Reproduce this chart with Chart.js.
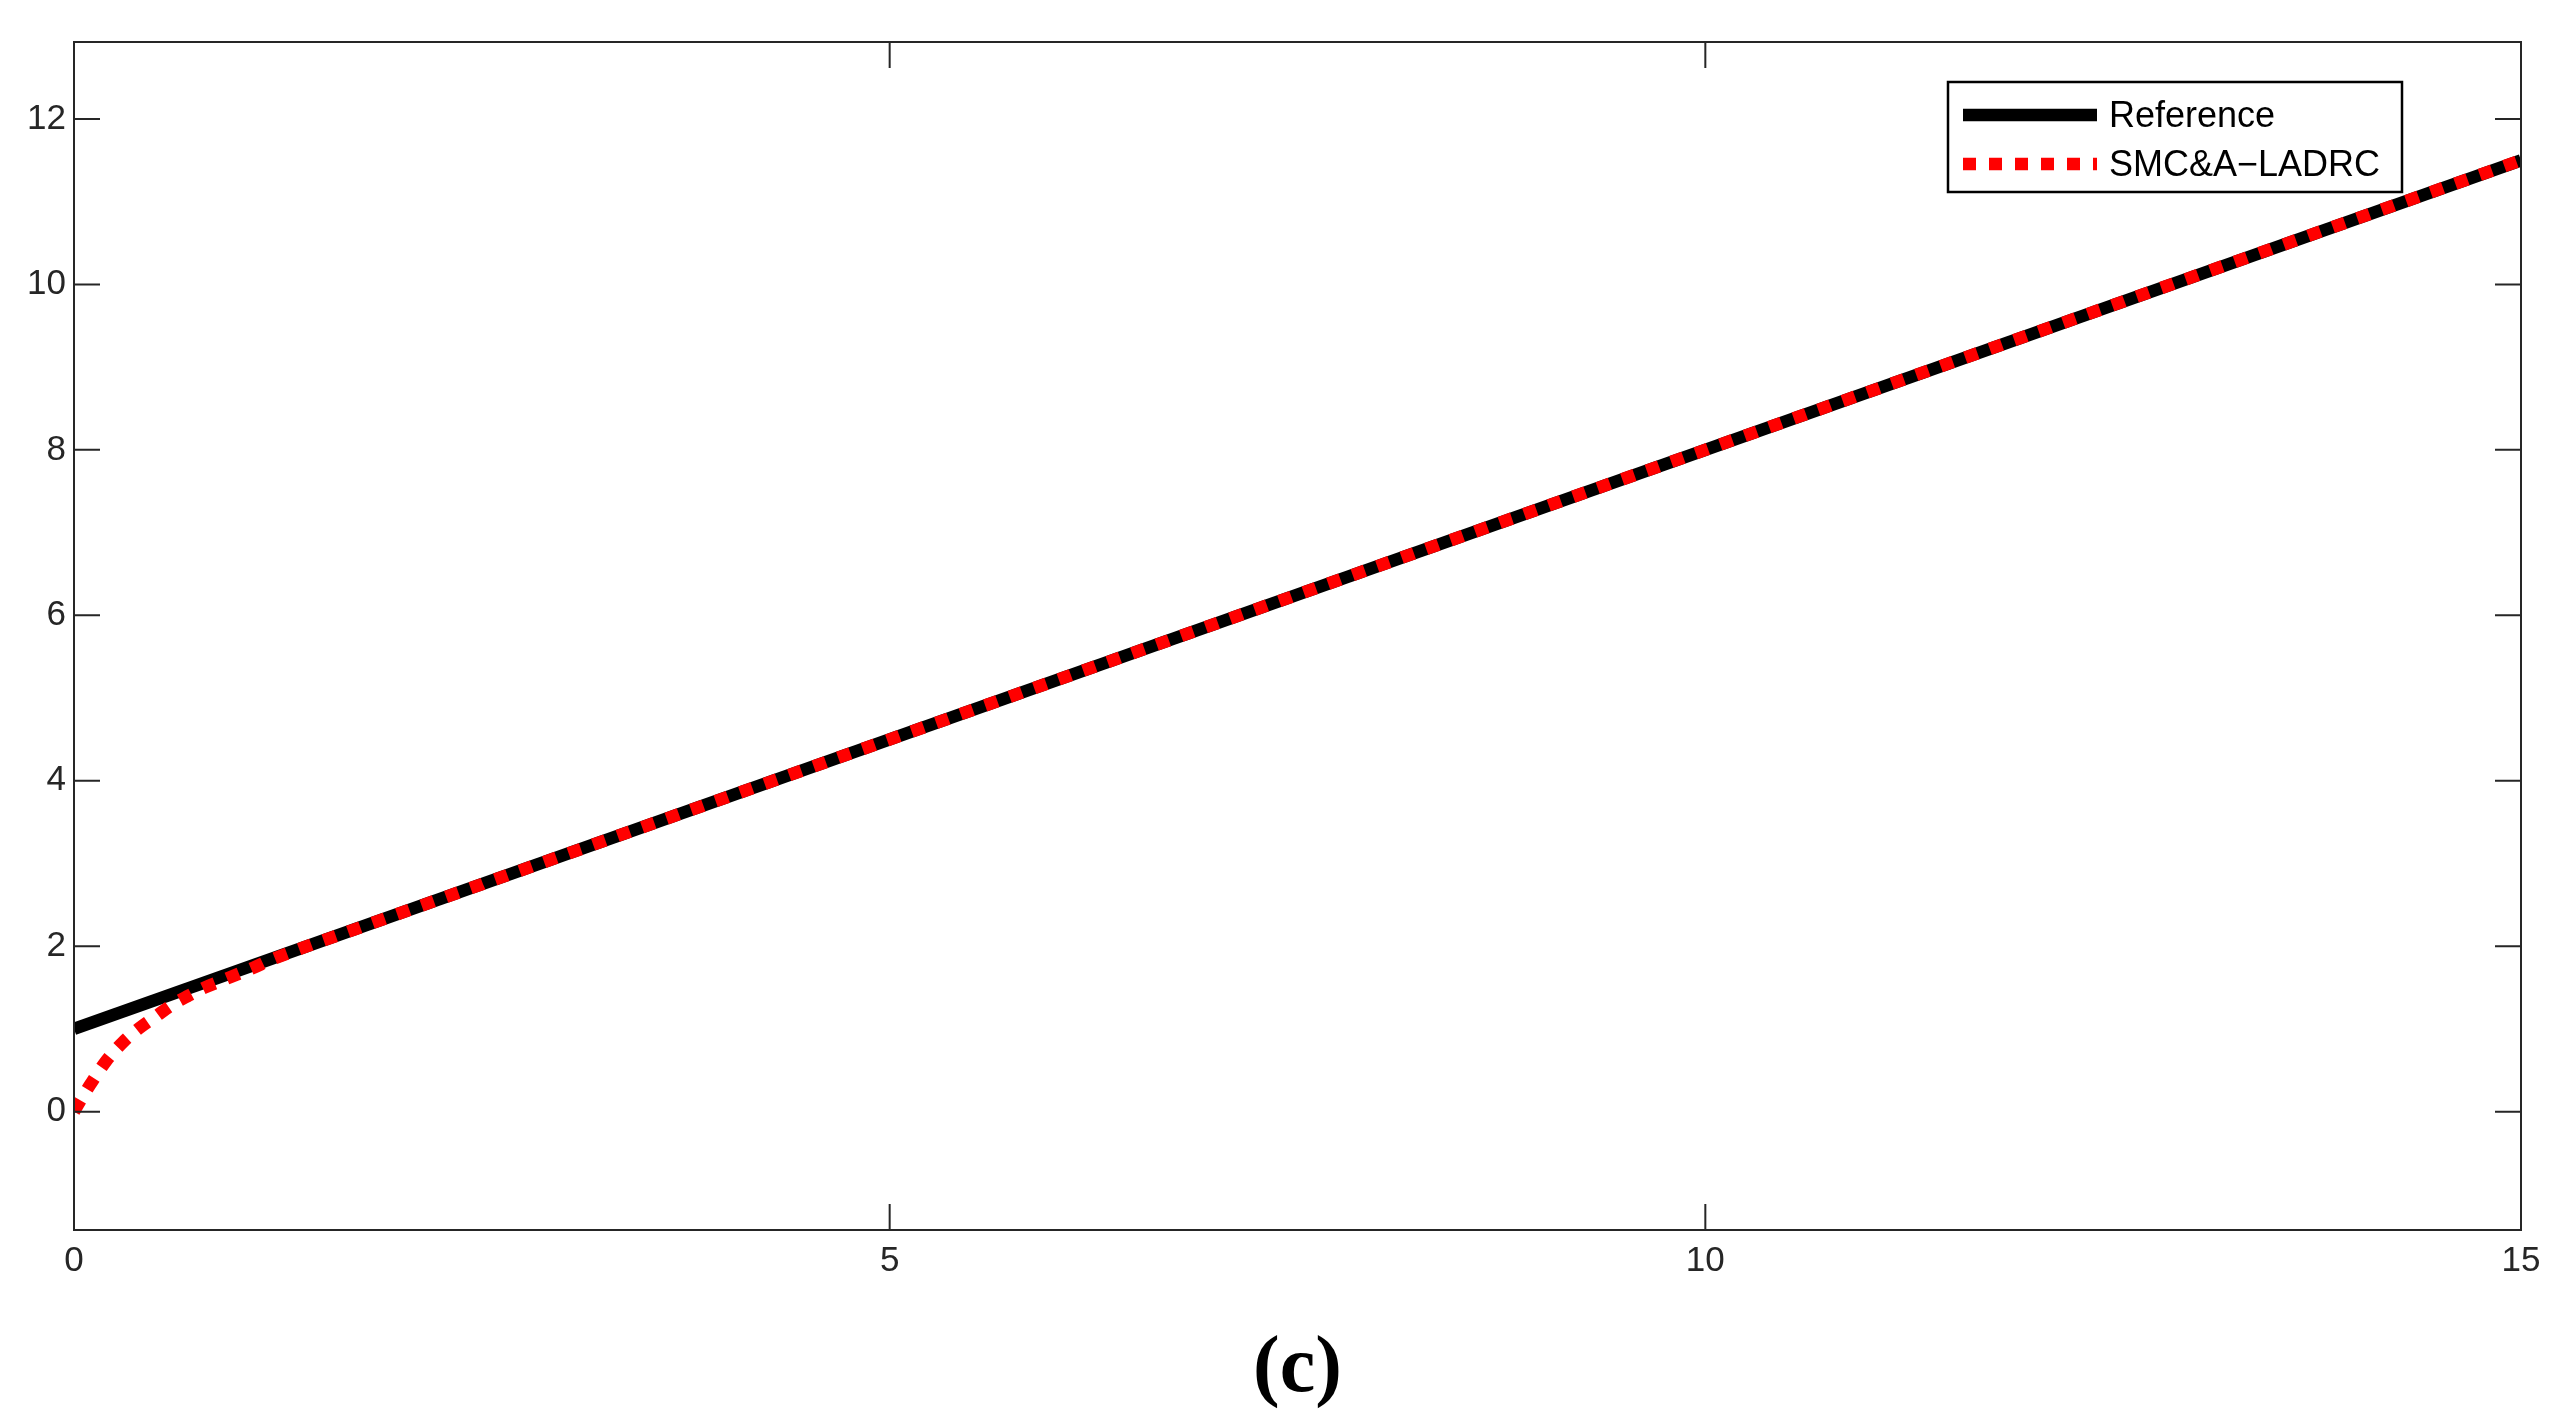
<!DOCTYPE html>
<html>
<head>
<meta charset="utf-8">
<script src="https://cdn.jsdelivr.net/npm/chart.js@4/dist/chart.umd.min.js"></script>
<style>
  html, body { margin: 0; padding: 0; background: #ffffff; }
  #wrap { width: 2567px; height: 1428px; position: relative; }
</style>
</head>
<body>
<div id="wrap"><canvas id="c" width="2567" height="1428"></canvas></div>
<script>
// ---- data ----
const seriesNames = ["Reference", "SMC&A\u2212LADRC"];
const refT = [0, 15];
const refY = [1.0, 11.5];
const ctrlT = [0, 0.05, 0.1, 0.2, 0.3, 0.4, 0.5, 0.6, 0.7, 0.8, 0.9, 1.0, 1.1, 1.2, 1.4, 1.6, 1.8, 15];
const ctrlY = [0, 0.17, 0.33, 0.62, 0.84, 1.01, 1.15, 1.29, 1.40, 1.50, 1.58, 1.66, 1.74, 1.83, 1.98, 2.12, 2.26, 11.5];
const xTicks = [0, 5, 10, 15];
const yTicks = [0, 2, 4, 6, 8, 10, 12];
const xRange = [0, 15];
const yRange = [-1.43, 12.93];
const caption = "(c)";

const AXIS_COLOR = "#262626";
const TICK_FONT = { family: "'Liberation Sans', Arial, sans-serif", size: 35, lineHeight: 1 };

function toPts(xs, ys) { return xs.map((x, i) => ({ x: x, y: ys[i] })); }

// frame + inward ticks on all four sides (MATLAB box style)
const framePlugin = {
  id: 'frame',
  afterDatasetsDraw(chart) {
    const { ctx, chartArea: a, scales: { x, y } } = chart;
    const tl = 26;
    ctx.save();
    ctx.strokeStyle = AXIS_COLOR;
    ctx.lineWidth = 2;
    ctx.beginPath();
    xTicks.forEach(v => {
      const px = x.getPixelForValue(v);
      ctx.moveTo(px, a.bottom); ctx.lineTo(px, a.bottom - tl);
      ctx.moveTo(px, a.top); ctx.lineTo(px, a.top + tl);
    });
    yTicks.forEach(v => {
      const py = y.getPixelForValue(v);
      ctx.moveTo(a.left, py); ctx.lineTo(a.left + tl, py);
      ctx.moveTo(a.right, py); ctx.lineTo(a.right - tl, py);
    });
    ctx.stroke();
    ctx.strokeRect(a.left, a.top, a.right - a.left, a.bottom - a.top);
    ctx.restore();
  }
};

// boxed legend inside the axes, upper right
const legendPlugin = {
  id: 'boxLegend',
  afterDraw(chart) {
    const { ctx } = chart;
    const box = { x: 1948, y: 82, w: 454, h: 110 };
    ctx.save();
    ctx.fillStyle = "#ffffff";
    ctx.fillRect(box.x, box.y, box.w, box.h);
    ctx.strokeStyle = "#000000";
    ctx.lineWidth = 2.5;
    ctx.strokeRect(box.x, box.y, box.w, box.h);
    const rows = [115, 164];
    chart.data.datasets.forEach((ds, i) => {
      const yy = rows[i];
      ctx.save();
      ctx.strokeStyle = ds.borderColor;
      ctx.lineWidth = ds.borderWidth;
      ctx.lineCap = 'butt';
      ctx.setLineDash(ds.borderDash || []);
      ctx.beginPath();
      ctx.moveTo(1963, yy);
      ctx.lineTo(2097, yy);
      ctx.stroke();
      ctx.restore();
      ctx.fillStyle = "#000000";
      ctx.font = "36px 'Liberation Sans', Arial, sans-serif";
      ctx.textAlign = 'left';
      ctx.textBaseline = 'middle';
      ctx.fillText(ds.label, 2109, yy + 2);
    });
    ctx.restore();
  }
};

new Chart(document.getElementById('c'), {
  type: 'line',
  data: {
    datasets: [
      {
        label: seriesNames[0],
        data: toPts(refT, refY),
        borderColor: "#000000",
        borderWidth: 12.5,
        pointRadius: 0,
        fill: false,
        order: 2
      },
      {
        label: seriesNames[1],
        data: toPts(ctrlT, ctrlY),
        borderColor: "#ff0000",
        borderWidth: 12.5,
        borderDash: [13, 13],
        borderCapStyle: 'butt',
        pointRadius: 0,
        fill: false,
        cubicInterpolationMode: 'monotone',
        order: 1
      }
    ]
  },
  options: {
    responsive: false,
    animation: false,
    layout: { padding: { left: 0, top: 42, right: 46, bottom: 0 } },
    plugins: { legend: { display: false }, tooltip: { enabled: false }, title: { display: false } },
    scales: {
      x: {
        type: 'linear',
        min: xRange[0], max: xRange[1],
        grid: { display: false, drawTicks: false },
        border: { display: false },
        afterBuildTicks: s => { s.ticks = xTicks.map(v => ({ value: v })); },
        afterFit: s => { s.height = 198; },
        ticks: { color: AXIS_COLOR, font: TICK_FONT, padding: 14, maxRotation: 0, autoSkip: false,
                 callback: v => String(v) },
        title: {
          display: true,
          text: caption,
          color: "#000000",
          font: { family: "'Liberation Serif', 'Times New Roman', serif", size: 80, weight: 'bold', lineHeight: 1 },
          padding: { top: 0, bottom: 18 }
        }
      },
      y: {
        type: 'linear',
        min: yRange[0], max: yRange[1],
        grid: { display: false, drawTicks: false },
        border: { display: false },
        afterBuildTicks: s => { s.ticks = yTicks.map(v => ({ value: v })); },
        afterFit: s => { s.width = 74; },
        ticks: { color: AXIS_COLOR, font: TICK_FONT, padding: 8, autoSkip: false,
                 callback: v => String(v) }
      }
    }
  },
  plugins: [framePlugin, legendPlugin]
});
</script>
</body>
</html>
